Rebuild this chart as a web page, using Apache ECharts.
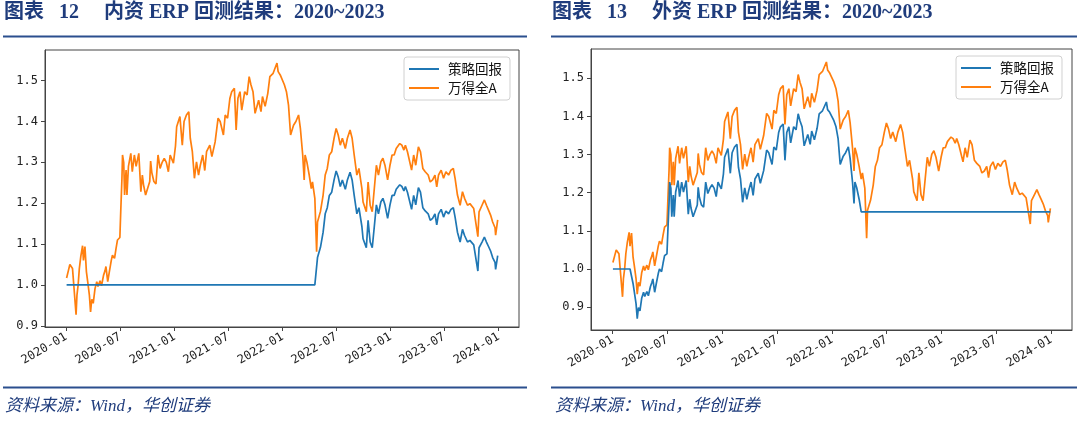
<!DOCTYPE html>
<html><head><meta charset="utf-8">
<script src="https://cdn.jsdelivr.net/npm/echarts@6/dist/echarts.min.js"></script>
<style>html,body{margin:0;padding:0;background:#fff}#c{width:1080px;height:421px}</style>
</head><body><div id="c"></div>
<script>
// ---- data ----
const dates2020 = ['2020-01-02','2020-01-08','2020-01-13','2020-01-17','2020-01-22','2020-02-03','2020-02-06','2020-02-10','2020-02-14','2020-02-19','2020-02-25','2020-02-28','2020-03-04','2020-03-09','2020-03-13','2020-03-19','2020-03-23','2020-03-27','2020-04-01','2020-04-07','2020-04-13','2020-04-17','2020-04-24','2020-04-29','2020-05-06','2020-05-11','2020-05-14','2020-05-20','2020-05-25','2020-06-01','2020-06-05','2020-06-12','2020-06-17','2020-06-22','2020-06-30','2020-07-03','2020-07-07','2020-07-09','2020-07-13','2020-07-16','2020-07-21','2020-07-24','2020-07-29','2020-08-06','2020-08-11','2020-08-18','2020-08-24','2020-09-02','2020-09-09','2020-09-14','2020-09-18','2020-09-25','2020-10-09','2020-10-12','2020-10-16','2020-10-23','2020-10-30','2020-11-06','2020-11-13','2020-11-20','2020-11-27','2020-12-04','2020-12-11','2020-12-17','2020-12-28'];
const dates2021 = ['2021-01-04','2021-01-08','2021-01-14','2021-01-19','2021-01-27','2021-02-02','2021-02-10','2021-02-18','2021-02-23','2021-03-02','2021-03-09','2021-03-16','2021-03-23','2021-03-29','2021-04-06','2021-04-13','2021-04-19','2021-04-30','2021-05-07','2021-05-18','2021-05-28','2021-06-04','2021-06-15','2021-06-21','2021-06-29','2021-07-07','2021-07-13','2021-07-22','2021-07-28','2021-08-03','2021-08-10','2021-08-16','2021-08-26','2021-09-03','2021-09-10','2021-09-16','2021-09-23','2021-09-30','2021-10-12','2021-10-20','2021-10-25','2021-11-03','2021-11-12','2021-11-19','2021-11-30','2021-12-13','2021-12-17','2021-12-24'];
const dates2022 = ['2022-01-07','2022-01-14','2022-01-21','2022-01-28','2022-02-07','2022-02-15','2022-02-24','2022-03-02','2022-03-10','2022-03-15','2022-03-18','2022-03-24','2022-04-01','2022-04-08','2022-04-12','2022-04-20','2022-04-26','2022-04-29','2022-05-09','2022-05-18','2022-05-25','2022-06-01','2022-06-08','2022-06-16','2022-06-24','2022-07-01','2022-07-08','2022-07-15','2022-07-22','2022-08-01','2022-08-08','2022-08-17','2022-08-24','2022-08-31','2022-09-09','2022-09-16','2022-09-26','2022-09-30','2022-10-11','2022-10-17','2022-10-24','2022-10-31','2022-11-07','2022-11-14','2022-11-21','2022-11-29','2022-12-06','2022-12-13','2022-12-22','2022-12-30'];
const dates2023 = ['2023-01-06','2023-01-13','2023-01-20','2023-02-01','2023-02-08','2023-02-15','2023-02-20','2023-02-27','2023-03-13','2023-03-20','2023-03-27','2023-04-05','2023-04-12','2023-04-20','2023-04-28','2023-05-08','2023-05-15','2023-05-23','2023-05-31','2023-06-06','2023-06-12','2023-06-21','2023-06-29','2023-07-07','2023-07-16','2023-07-24','2023-08-01','2023-08-07','2023-08-15','2023-08-24','2023-09-01','2023-09-08','2023-09-18','2023-09-26','2023-10-09','2023-10-13','2023-10-23','2023-10-27','2023-11-06','2023-11-14','2023-11-21','2023-11-28','2023-12-05','2023-12-12','2023-12-20','2023-12-22','2023-12-29'];

// 万得全A (same index in both panels)
const windA2020 = [1.017,1.035,1.050,1.046,1.040,0.927,0.975,1.000,1.040,1.070,1.096,1.060,1.094,1.032,1.010,0.975,0.934,0.965,0.955,0.991,1.008,0.996,1.010,0.998,1.024,1.035,1.045,1.008,1.030,1.060,1.073,1.065,1.089,1.110,1.116,1.180,1.260,1.318,1.300,1.220,1.281,1.220,1.290,1.322,1.277,1.318,1.290,1.322,1.228,1.269,1.245,1.220,1.253,1.303,1.275,1.253,1.247,1.318,1.285,1.300,1.310,1.300,1.277,1.318,1.298];
const windA2021 = [1.340,1.387,1.391,1.412,1.342,1.400,1.416,1.424,1.359,1.326,1.261,1.301,1.269,1.293,1.318,1.280,1.326,1.342,1.314,1.350,1.408,1.400,1.367,1.416,1.408,1.457,1.473,1.481,1.379,1.457,1.473,1.428,1.473,1.465,1.510,1.490,1.473,1.420,1.452,1.424,1.461,1.437,1.469,1.510,1.518,1.543,1.522,1.514];
const windA2022 = [1.490,1.473,1.440,1.367,1.391,1.400,1.416,1.384,1.318,1.257,1.318,1.301,1.269,1.236,1.252,1.212,1.081,1.154,1.180,1.220,1.269,1.285,1.318,1.326,1.359,1.383,1.367,1.342,1.359,1.334,1.359,1.379,1.359,1.318,1.269,1.285,1.236,1.203,1.179,1.252,1.195,1.179,1.236,1.293,1.269,1.301,1.310,1.293,1.257,1.293];
const windA2023 = [1.318,1.318,1.334,1.346,1.342,1.330,1.342,1.326,1.281,1.318,1.293,1.338,1.326,1.285,1.277,1.269,1.252,1.257,1.269,1.240,1.269,1.281,1.261,1.277,1.269,1.281,1.285,1.261,1.220,1.195,1.228,1.212,1.195,1.199,1.187,1.187,1.118,1.179,1.195,1.208,1.195,1.183,1.171,1.154,1.140,1.122,1.159];

// 策略回报 — 图表12 内资 ERP
const domestic2020 = [1,1,1,1,1,1,1,1,1,1,1,1,1,1,1,1,1,1,1,1,1,1,1,1,1,1,1,1,1,1,1,1,1,1,1,1,1,1,1,1,1,1,1,1,1,1,1,1,1,1,1,1,1,1,1,1,1,1,1,1,1,1,1,1,1];
const domestic2021 = [1,1,1,1,1,1,1,1,1,1,1,1,1,1,1,1,1,1,1,1,1,1,1,1,1,1,1,1,1,1,1,1,1,1,1,1,1,1,1,1,1,1,1,1,1,1,1,1];
const domestic2022 = [1,1,1,1,1,1,1,1,1,1,1,1,1,1,1,1,1.000,1.067,1.092,1.129,1.174,1.189,1.219,1.227,1.257,1.279,1.264,1.241,1.257,1.234,1.257,1.276,1.257,1.219,1.174,1.189,1.143,1.113,1.091,1.158,1.105,1.091,1.143,1.196,1.174,1.203,1.212,1.196,1.163,1.196];
const domestic2023 = [1.219,1.219,1.234,1.245,1.241,1.230,1.241,1.227,1.185,1.219,1.196,1.238,1.227,1.189,1.181,1.174,1.158,1.163,1.174,1.147,1.174,1.185,1.166,1.181,1.174,1.185,1.189,1.166,1.129,1.105,1.136,1.121,1.105,1.109,1.098,1.098,1.034,1.091,1.105,1.117,1.105,1.094,1.083,1.067,1.055,1.038,1.072];

// 策略回报 — 图表13 外资 ERP
const foreign2020 = [1,1,1,1,1,1,1,1,1,1,1,1,1,0.962,0.941,0.909,0.870,0.899,0.890,0.924,0.939,0.928,0.941,0.930,0.954,0.965,0.974,0.939,0.960,0.988,1.000,0.993,1.015,1.035,1.040,1.100,1.174,1.228,1.212,1.137,1.194,1.137,1.202,1.232,1.190,1.228,1.202,1.232,1.144,1.183,1.160,1.137,1.168,1.214,1.188,1.168,1.162,1.228,1.198,1.212,1.221,1.212,1.190,1.228,1.210];
const foreign2021 = [1.249,1.293,1.296,1.316,1.251,1.305,1.320,1.327,1.267,1.236,1.175,1.213,1.183,1.205,1.228,1.193,1.236,1.251,1.225,1.258,1.312,1.305,1.274,1.320,1.312,1.358,1.373,1.380,1.285,1.358,1.373,1.331,1.373,1.365,1.407,1.389,1.373,1.323,1.353,1.327,1.362,1.339,1.369,1.407,1.415,1.438,1.418,1.411];
const foreign2022 = [1.389,1.373,1.342,1.274,1.296,1.305,1.320,1.290,1.228,1.172,1.228,1.213,1.183,1.150,1.15,1.15,1.15,1.15,1.15,1.15,1.15,1.15,1.15,1.15,1.15,1.15,1.15,1.15,1.15,1.15,1.15,1.15,1.15,1.15,1.15,1.15,1.15,1.15,1.15,1.15,1.15,1.15,1.15,1.15,1.15,1.15,1.15,1.15,1.15,1.15];
const foreign2023 = [1.15,1.15,1.15,1.15,1.15,1.15,1.15,1.15,1.15,1.15,1.15,1.15,1.15,1.15,1.15,1.15,1.15,1.15,1.15,1.15,1.15,1.15,1.15,1.15,1.15,1.15,1.15,1.15,1.15,1.15,1.15,1.15,1.15,1.15,1.15,1.15,1.15,1.15,1.15,1.15,1.15,1.15,1.15,1.15,1.15,1.15,1.15];

const yTickLabels = [0.9, 1.0, 1.1, 1.2, 1.3, 1.4, 1.5];
const xTickLabels = ['2020-01','2020-07','2021-01','2021-07','2022-01','2022-07','2023-01','2023-07','2024-01'];
const seriesNames = ['策略回报', '万得全A'];
const titles = ['图表\u2002 12\u3000 内资 ERP 回测结果：2020~2023', '图表\u2002 13\u3000 外资 ERP 回测结果：2020~2023'];
const sourceText = '资料来源：Wind，华创证券';

// ---- build ----
function ts(s) { const p = s.split('-'); return Date.UTC(+p[0], +p[1] - 1, +(p[2] || 1)); }
const dates = dates2020.concat(dates2021, dates2022, dates2023);
const windA = windA2020.concat(windA2021, windA2022, windA2023);
const domestic = domestic2020.concat(domestic2021, domestic2022, domestic2023);
const foreign = foreign2020.concat(foreign2021, foreign2022, foreign2023);
const pair = (arr) => dates.map((d, i) => [ts(d), arr[i]]);

const xTicks = xTickLabels.map(ts);
const fmtX = (v) => { const d = new Date(v); return d.getUTCFullYear() + '-' + String(d.getUTCMonth() + 1).padStart(2, '0'); };

const BLUE = '#1f77b4', ORANGE = '#ff7f0e';
const tickFont = { fontFamily: "'DejaVu Sans Mono', monospace", fontSize: 12, color: '#222' };

function xAxis(gi) {
  return {
    type: 'value', gridIndex: gi, min: ts('2019-10-21'), max: ts('2024-03-10'),
    axisLine: { show: true, onZero: false, lineStyle: { color: '#444', width: 1 } },
    axisTick: { show: true, length: 4, lineStyle: { color: '#444' }, customValues: xTicks },
    axisLabel: Object.assign({ rotate: 30, margin: 9, formatter: fmtX, customValues: xTicks }, tickFont),
    splitLine: { show: false }
  };
}
function yAxis(gi, mn, mx) {
  return {
    type: 'value', gridIndex: gi, min: mn, max: mx,
    axisLine: { show: true, onZero: false, lineStyle: { color: '#444', width: 1 } },
    axisTick: { show: true, length: 4, lineStyle: { color: '#444' }, customValues: yTickLabels },
    axisLabel: Object.assign({ margin: 7, formatter: (v) => v.toFixed(1), customValues: yTickLabels }, tickFont),
    splitLine: { show: false }
  };
}
function line(name, data, color, gi) {
  return { name, type: 'line', xAxisIndex: gi, yAxisIndex: gi, data, symbol: 'none', showSymbol: false,
    lineStyle: { color, width: 1.7 }, itemStyle: { color }, animation: false, z: name === '策略回报' ? 3 : 2 };
}
function legend(left, top) {
  return {
    left, top, orient: 'vertical', data: seriesNames.map((n) => ({ name: n, icon: 'rect' })),
    itemWidth: 30, itemHeight: 2, itemGap: 5,
    padding: [5, 8, 5, 5], borderColor: '#d0d0d0', borderWidth: 1, borderRadius: 3, backgroundColor: '#fff',
    textStyle: { fontFamily: "'Noto Sans CJK SC', sans-serif", fontSize: 13.5, lineHeight: 14, color: '#111', padding: [0, 0, 0, 4] },
    selectedMode: false
  };
}
const headStyle = { fontFamily: "'Liberation Serif', 'Noto Sans CJK SC', serif", fontSize: 20, fontWeight: 'bold', fill: '#1f3c7c' };
const footStyle = { fontFamily: "'Liberation Serif', 'Noto Sans CJK SC', serif", fontSize: 17, fontStyle: 'italic', fill: '#1f3c7c' };

const chart = echarts.init(document.getElementById('c'), null, { renderer: 'canvas' });
chart.setOption({
  animation: false,
  backgroundColor: '#fff',
  grid: [
    { left: 45, top: 50, width: 474, height: 277, show: true, borderColor: '#444', borderWidth: 1, backgroundColor: 'transparent' },
    { left: 591, top: 49, width: 481, height: 281, show: true, borderColor: '#444', borderWidth: 1, backgroundColor: 'transparent' }
  ],
  xAxis: [xAxis(0), xAxis(1)],
  yAxis: [yAxis(0, 0.897, 1.575), yAxis(1, 0.84, 1.577)],
  legend: [legend(404, 57), legend(956, 56)],
  series: [
    line(seriesNames[0], pair(domestic), BLUE, 0),
    line(seriesNames[1], pair(windA), ORANGE, 0),
    line(seriesNames[0], pair(foreign), BLUE, 1),
    line(seriesNames[1], pair(windA), ORANGE, 1)
  ],
  graphic: [
    { type: 'text', left: 4, top: 3, style: Object.assign({ text: titles[0] }, headStyle) },
    { type: 'text', left: 552, top: 3, style: Object.assign({ text: titles[1] }, headStyle) },
    { type: 'line', shape: { x1: 3, y1: 36.5, x2: 527, y2: 36.5 }, style: { stroke: '#2b4f8e', lineWidth: 2 } },
    { type: 'line', shape: { x1: 551, y1: 36.5, x2: 1077, y2: 36.5 }, style: { stroke: '#2b4f8e', lineWidth: 2 } },
    { type: 'line', shape: { x1: 3, y1: 387.5, x2: 527, y2: 387.5 }, style: { stroke: '#2b4f8e', lineWidth: 2 } },
    { type: 'line', shape: { x1: 551, y1: 387.5, x2: 1077, y2: 387.5 }, style: { stroke: '#2b4f8e', lineWidth: 2 } },
    { type: 'text', left: 5, top: 398, style: Object.assign({ text: sourceText }, footStyle) },
    { type: 'text', left: 555, top: 398, style: Object.assign({ text: sourceText }, footStyle) }
  ]
});
</script></body></html>
